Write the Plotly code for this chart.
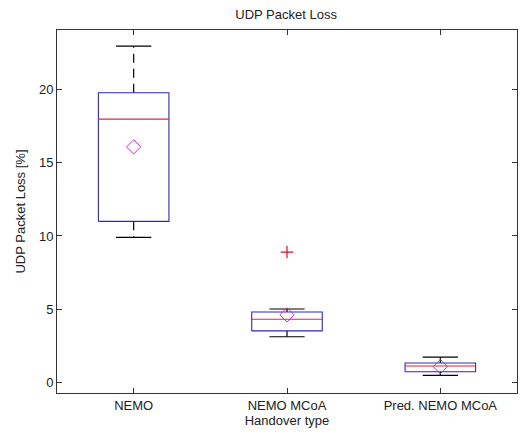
import plotly.graph_objects as go

categories = ["NEMO", "NEMO MCoA", "Pred. NEMO MCoA"]
lower_whisker = [9.9, 3.1, 0.45]
q1 = [11.0, 3.5, 0.7]
median = [18.0, 4.3, 1.1]
q3 = [19.8, 4.8, 1.3]
upper_whisker = [23.0, 5.0, 1.7]
mean = [16.1, 4.6, 1.05]
outlier_cat = [2]
outlier_val = [8.9]
y_ticks = [0, 5, 10, 15, 20]

pos = list(range(1, len(categories) + 1))
hw = 0.23   # box half width
cw = 0.115  # cap half width

box_x, box_y = [], []
med_x, med_y = [], []
wh_x, wh_y = [], []
cap_x, cap_y = [], []
for i, p in enumerate(pos):
    box_x += [p - hw, p + hw, p + hw, p - hw, p - hw, None]
    box_y += [q1[i], q1[i], q3[i], q3[i], q1[i], None]
    med_x += [p - hw, p + hw, None]
    med_y += [median[i], median[i], None]
    wh_x += [p, p, None, p, p, None]
    wh_y += [q3[i], upper_whisker[i], None, q1[i], lower_whisker[i], None]
    cap_x += [p - cw, p + cw, None, p - cw, p + cw, None]
    cap_y += [upper_whisker[i], upper_whisker[i], None, lower_whisker[i], lower_whisker[i], None]

fig = go.Figure()
fig.add_trace(go.Scatter(x=wh_x, y=wh_y, mode="lines",
                         line=dict(color="black", width=1.2, dash="9px,6px"), hoverinfo="skip"))
fig.add_trace(go.Scatter(x=cap_x, y=cap_y, mode="lines",
                         line=dict(color="black", width=1.2), hoverinfo="skip"))
fig.add_trace(go.Scatter(x=box_x, y=box_y, mode="lines",
                         line=dict(color="#2a2ab8", width=1.1), hoverinfo="skip"))
fig.add_trace(go.Scatter(x=med_x, y=med_y, mode="lines",
                         line=dict(color="#e8203a", width=1.1), hoverinfo="skip"))
fig.add_trace(go.Scatter(x=pos, y=mean, mode="markers",
                         marker=dict(symbol="diamond-open", size=11,
                                     color="#cc33cc", line=dict(width=1))))
fig.add_trace(go.Scatter(x=outlier_cat, y=outlier_val, mode="markers",
                         marker=dict(symbol="cross-thin-open", size=9,
                                     color="#e01020", line=dict(width=1.2, color="#e01020"))))

font = "Liberation Sans, Arial, sans-serif"
fig.update_layout(
    width=525, height=435,
    margin=dict(l=57, r=8, t=30, b=42),
    paper_bgcolor="white", plot_bgcolor="white",
    showlegend=False,
    font=dict(family=font, size=13, color="#222222"),
    title=dict(text="UDP Packet Loss", x=0.545, xanchor="center", y=0.967, yanchor="middle",
               font=dict(size=13, family=font, color="#222222")),
    xaxis=dict(range=[0.5, 3.5], tickvals=pos, ticktext=categories, automargin=False,
               showgrid=False, zeroline=False, showline=True, linecolor="#333333",
               linewidth=1, mirror="ticks", ticks="inside", ticklen=5, tickcolor="#333333",
               tickfont=dict(size=13),
               title=dict(text="Handover type", standoff=0, font=dict(size=13))),
    yaxis=dict(range=[-0.75, 24.1], tickvals=y_ticks, automargin=False,
               showgrid=False, zeroline=False, showline=True, linecolor="#333333",
               linewidth=1, mirror="ticks", ticks="inside", ticklen=5, tickcolor="#333333",
               tickfont=dict(size=13),
               title=dict(text="UDP Packet Loss [%]", standoff=10, font=dict(size=13))),
)

fig.write_html("out.html", config={"displayModeBar": False},
               post_script="document.body.style.margin='0';")
